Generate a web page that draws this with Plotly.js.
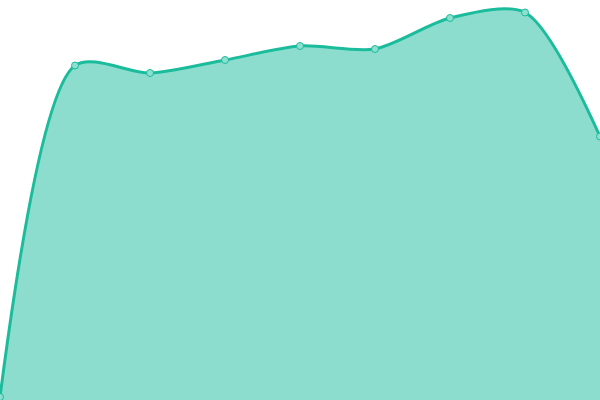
<!DOCTYPE html>
<html><head><meta charset="utf-8">
<script src="https://cdn.plot.ly/plotly-3.0.1.min.js"></script>
<style>html,body{margin:0;padding:0;background:#fff}#chart{width:600px;height:400px}</style>
</head><body><div id="chart"></div>
<script>
const categories = [0, 1, 2, 3, 4, 5, 6, 7, 8];
const values = [3, 334.5, 327, 340, 354, 351, 382, 387.5, 263.5];

Plotly.newPlot('chart', [{
  x: categories,
  y: values,
  type: 'scatter',
  mode: 'lines+markers',
  fill: 'tozeroy',
  fillcolor: 'rgba(26,188,156,0.5)',
  line: {color: '#1abc9c', width: 3, shape: 'spline', smoothing: 0.8},
  marker: {size: 7, color: '#8de0cf', line: {color: '#1abc9c', width: 1}},
  cliponaxis: true,
  hoverinfo: 'none'
}], {
  width: 600, height: 400,
  margin: {l: 0, r: 0, t: 0, b: 0},
  paper_bgcolor: '#fff', plot_bgcolor: '#fff',
  showlegend: false,
  xaxis: {range: [0, 8], visible: false, fixedrange: true},
  yaxis: {range: [0, 400], visible: false, fixedrange: true}
}, {displayModeBar: false, staticPlot: true});
</script></body></html>
